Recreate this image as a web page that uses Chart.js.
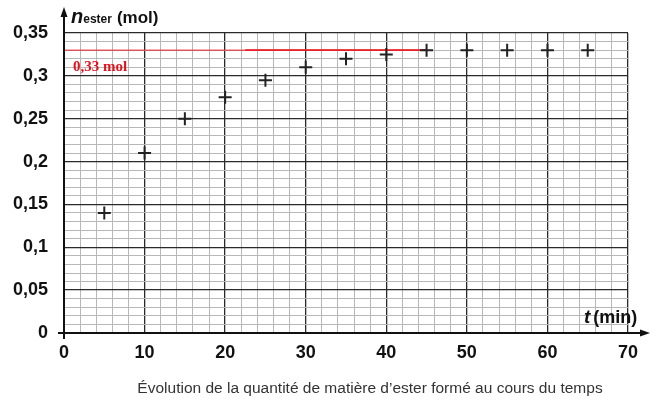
<!DOCTYPE html>
<html>
<head>
<meta charset="utf-8">
<script src="https://cdn.jsdelivr.net/npm/chart.js@4"></script>
<style>
  html, body { margin: 0; padding: 0; background: #fff; }
  #wrap { width: 668px; height: 400px; position: relative; }
</style>
</head>
<body>
<div id="wrap"><canvas id="c" width="668" height="400"></canvas></div>
<script>
// ---- data ----
const times = [5, 10, 15, 20, 25, 30, 35, 40, 45, 50, 55, 60, 65];
const nEster = [0.14, 0.21, 0.25, 0.275, 0.295, 0.31, 0.32, 0.325, 0.33, 0.33, 0.33, 0.33, 0.33];
const plateauValue = 0.33;
const plateauThinX = [0, 45];
const plateauThickX = [22.5, 45];
const xTickLabels = [0, 10, 20, 30, 40, 50, 60, 70];
const yTickLabels = ["0", "0,05", "0,1", "0,15", "0,2", "0,25", "0,3", "0,35"];
const captionText = "Évolution de la quantité de matière d’ester formé au cours du temps";
const plateauLabel = "0,33 mol";

const points = times.map((t, i) => ({ x: t, y: nEster[i] }));
const thinLine = plateauThinX.map(x => ({ x: x, y: plateauValue }));
const thickLine = plateauThickX.map(x => ({ x: x, y: plateauValue }));

const isMajorX = v => Math.abs(v % 10) < 1e-6;
const yIndex = v => Math.round(v * 100);
const isMajorY = v => yIndex(v) % 5 === 0;

const extras = {
  id: 'extras',
  afterDraw(chart) {
    const ctx = chart.ctx;
    const xs = chart.scales.x, ys = chart.scales.y;
    const x0 = xs.getPixelForValue(0), y0 = ys.getPixelForValue(0);
    ctx.save();
    ctx.strokeStyle = '#111';
    ctx.fillStyle = '#111';
    ctx.lineWidth = 2;
    // y axis with arrow
    ctx.beginPath();
    ctx.moveTo(x0, y0 + 6);
    ctx.lineTo(x0, 14);
    ctx.stroke();
    ctx.beginPath();
    ctx.moveTo(x0, 7);
    ctx.lineTo(x0 - 3.5, 17);
    ctx.lineTo(x0 + 3.5, 17);
    ctx.closePath();
    ctx.fill();
    // x axis with arrow
    ctx.beginPath();
    ctx.moveTo(x0 - 6, y0);
    ctx.lineTo(642, y0);
    ctx.stroke();
    ctx.beginPath();
    ctx.moveTo(650, y0);
    ctx.lineTo(640, y0 - 3.5);
    ctx.lineTo(640, y0 + 3.5);
    ctx.closePath();
    ctx.fill();

    // y axis title: n_ester (mol)
    ctx.textBaseline = 'alphabetic';
    ctx.textAlign = 'left';
    ctx.font = 'italic bold 20px "Liberation Sans", Arial, sans-serif';
    ctx.fillText('n', 71, 23);
    let w = ctx.measureText('n').width;
    ctx.font = 'bold 12px "Liberation Sans", Arial, sans-serif';
    ctx.fillText('ester', 71 + w, 23);
    let w2 = ctx.measureText('ester').width;
    ctx.font = 'bold 17px "Liberation Sans", Arial, sans-serif';
    ctx.fillText('(mol)', 71 + w + w2 + 5, 23);

    // x axis title: t (min)
    ctx.font = 'italic bold 19px "Liberation Sans", Arial, sans-serif';
    ctx.fillText('t', 584, 323);
    w = ctx.measureText('t').width;
    ctx.font = 'bold 18px "Liberation Sans", Arial, sans-serif';
    ctx.fillText('(min)', 584 + w + 3, 323);

    // plateau label
    ctx.fillStyle = '#e0141e';
    ctx.font = 'bold 15px "Liberation Serif", "Times New Roman", serif';
    ctx.fillText(plateauLabel, 73, 71);

    // caption
    ctx.fillStyle = '#333';
    ctx.textAlign = 'center';
    ctx.font = '15.5px "Liberation Sans", Arial, sans-serif';
    ctx.fillText(captionText, 370, 393);
    ctx.restore();
  }
};

new Chart(document.getElementById('c'), {
  type: 'scatter',
  data: {
    datasets: [
      {
        data: thinLine, showLine: true, borderColor: '#e8202a', borderWidth: 1,
        pointRadius: 0, order: 3
      },
      {
        data: thickLine, showLine: true, borderColor: '#e8202a', borderWidth: 1.8,
        pointRadius: 0, order: 2
      },
      {
        data: points, showLine: false, pointStyle: 'cross', pointRadius: 6.5,
        borderColor: '#222', backgroundColor: '#222', borderWidth: 2, order: 1
      }
    ]
  },
  options: {
    responsive: false,
    animation: false,
    events: [],
    layout: { padding: { top: 33, right: 40, left: 0, bottom: 0 } },
    plugins: { legend: { display: false }, tooltip: { enabled: false }, title: { display: false } },
    scales: {
      x: {
        type: 'linear', min: 0, max: 70,
        afterFit(scale) { scale.height = 67; },
        border: { display: false },
        grid: {
          drawTicks: false,
          color: c => isMajorX(c.tick.value) ? '#2a2a2a' : '#b8b8b8',
          lineWidth: c => isMajorX(c.tick.value) ? 1.3 : 1
        },
        ticks: {
          stepSize: 2, autoSkip: false, maxRotation: 0, padding: 9,
          color: '#111',
          font: { family: '"Liberation Sans", Arial, sans-serif', size: 18, weight: 'bold' },
          callback: v => (isMajorX(v) && xTickLabels.includes(v)) ? String(v) : ''
        }
      },
      y: {
        type: 'linear', min: 0, max: 0.35,
        afterFit(scale) { scale.width = 64; },
        border: { display: false },
        grid: {
          drawTicks: false,
          color: c => isMajorY(c.tick.value) ? '#2a2a2a' : '#b8b8b8',
          lineWidth: c => isMajorY(c.tick.value) ? 1.3 : 1
        },
        ticks: {
          stepSize: 0.01, autoSkip: false, padding: 16,
          color: '#111',
          font: { family: '"Liberation Sans", Arial, sans-serif', size: 18, weight: 'bold' },
          callback: v => isMajorY(v) ? yTickLabels[yIndex(v) / 5] : ''
        }
      }
    }
  },
  plugins: [extras]
});
</script>
</body>
</html>
